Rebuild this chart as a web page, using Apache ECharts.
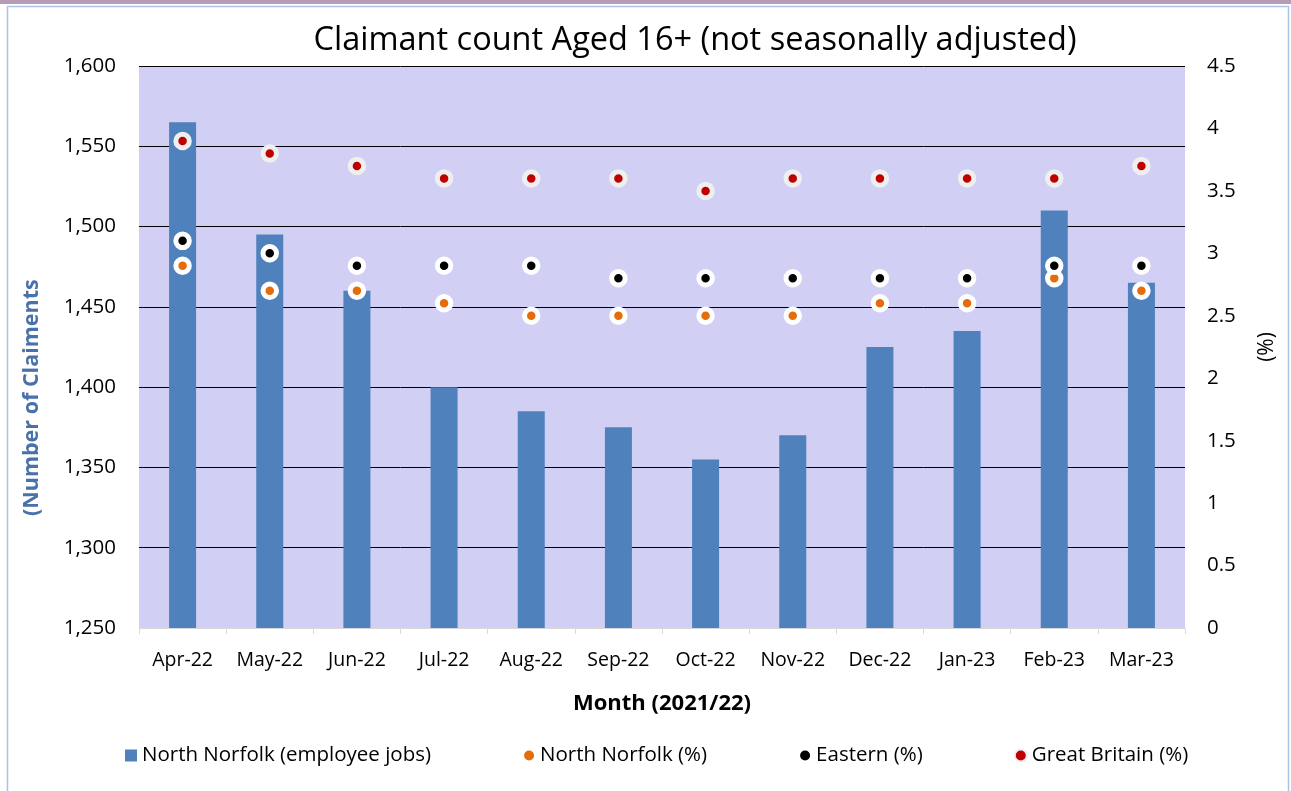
<!DOCTYPE html>
<html><head><meta charset="utf-8">
<script src="https://cdn.jsdelivr.net/npm/echarts@6/dist/echarts.min.js"></script>
<style>html,body{margin:0;padding:0;background:#fff}#c{width:1291px;height:791px}</style>
</head><body><div id="c"></div>
<script>
var months = ['Apr-22','May-22','Jun-22','Jul-22','Aug-22','Sep-22','Oct-22','Nov-22','Dec-22','Jan-23','Feb-23','Mar-23'];
var nnJobs = [1565,1495,1460,1400,1385,1375,1355,1370,1425,1435,1510,1465];
var nnPct = [2.9,2.7,2.7,2.6,2.5,2.5,2.5,2.5,2.6,2.6,2.8,2.7];
var eastPct = [3.1,3.0,2.9,2.9,2.9,2.8,2.8,2.8,2.8,2.8,2.9,2.9];
var gbPct = [3.9,3.8,3.7,3.6,3.6,3.6,3.5,3.6,3.6,3.6,3.6,3.7];

var F = '"Open Sans","Noto Sans",sans-serif';
var chart = echarts.init(document.getElementById('c'));
function dot(name, data, color, border) {
  return {name: name, type: 'scatter', yAxisIndex: 1, data: data, symbol: 'circle', symbolSize: 13.5, z: 5,
    itemStyle: {color: color, borderColor: border, borderWidth: 5, opacity: 1}};
}
chart.setOption({
  animation: false,
  title: {text: 'Claimant count Aged 16+ (not seasonally adjusted)', left: 690, top: 19, textAlign: 'center',
    textStyle: {fontFamily: F, fontSize: 32.5, fontWeight: 'normal', color: '#000'}},
  grid: {left: 139, right: 106, top: 66, bottom: 163, show: true, backgroundColor: '#d1cff3', borderWidth: 0},
  legend: {top: 740, left: 120, itemGap: 91, itemWidth: 12, itemHeight: 12,
    textStyle: {fontFamily: F, fontSize: 20.5, color: '#000'},
    data: [{name: 'North Norfolk (employee jobs)', icon: 'rect'}, 'North Norfolk (%)', 'Eastern (%)', 'Great Britain (%)']},
  xAxis: {type: 'category', data: months, boundaryGap: true,
    name: 'Month (2021/22)', nameLocation: 'middle', nameGap: 65,
    nameTextStyle: {fontFamily: F, fontSize: 22, fontWeight: 'bold', color: '#000'},
    axisLine: {lineStyle: {color: '#d9d9d9', width: 1}},
    axisTick: {show: true, length: 6, interval: 0, lineStyle: {color: '#d9d9d9'}},
    axisLabel: {fontFamily: F, fontSize: 19.5, color: '#000', margin: 22, interval: 0}},
  yAxis: [
    {type: 'value', min: 1250, max: 1600, interval: 50,
      axisLine: {show: false}, axisTick: {show: false},
      axisLabel: {fontFamily: F, fontSize: 20.5, color: '#000', margin: 23,
        formatter: function(v){return v.toLocaleString('en-US');}},
      splitLine: {lineStyle: {color: '#000', width: 1}}},
    {type: 'value', min: 0, max: 4.5, interval: 0.5, position: 'right',
      name: '(%)', nameLocation: 'middle', nameGap: 72, nameRotate: 90,
      nameTextStyle: {fontFamily: F, fontSize: 21, color: '#000'},
      axisLine: {show: false}, axisTick: {show: false},
      axisLabel: {fontFamily: F, fontSize: 20.5, color: '#000', margin: 22},
      splitLine: {show: false}}
  ],
  graphic: [
    {type: 'rect', left: 0, top: 0, shape: {width: 1291, height: 4}, style: {fill: '#b79cb5'}},
    {type: 'rect', left: 5, top: 4, shape: {width: 1281, height: 800}, style: {fill: 'none', stroke: '#a9c3e6', lineWidth: 1.5}},
    {type: 'text', rotation: Math.PI/2, originX: 0, originY: 0, position: [21, 516],
      style: {text: '(Number of Claiments', fontFamily: F, fontSize: 21.5, fontWeight: 'bold', fill: '#4a72aa'}}
  ],
  series: [
    {name: 'North Norfolk (employee jobs)', type: 'bar', data: nnJobs, barWidth: 27, itemStyle: {color: '#4f81bd'}, z: 2},
    dot('North Norfolk (%)', nnPct, '#e46c0a', '#ffffff'),
    dot('Eastern (%)', eastPct, '#000000', '#ffffff'),
    dot('Great Britain (%)', gbPct, '#c00000', '#efefef')
  ]
});
</script></body></html>
